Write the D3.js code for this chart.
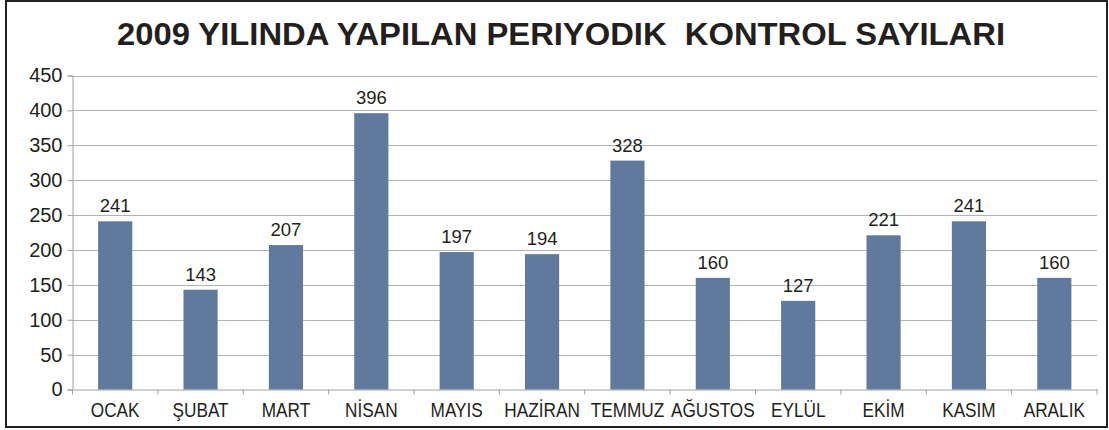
<!DOCTYPE html>
<html><head><meta charset="utf-8">
<script src="https://cdn.jsdelivr.net/npm/d3@7"></script>
<style>body{margin:0;background:#fff}svg{display:block}</style>
</head><body>
<script>
const categories = ["OCAK","ŞUBAT","MART","NİSAN","MAYIS","HAZİRAN","TEMMUZ","AĞUSTOS","EYLÜL","EKİM","KASIM","ARALIK"];
const values = [241,143,207,396,197,194,328,160,127,221,241,160];
const yTicks = [0,50,100,150,200,250,300,350,400,450];
const title = "2009 YILINDA YAPILAN PERIYODIK  KONTROL SAYILARI";

(function(){
const W=1109,H=430;
const svg=d3.select("body").append("svg").attr("width",W).attr("height",H);
svg.append("rect").attr("x",6).attr("y",1).attr("width",1101).attr("height",426).attr("fill","#fff").attr("stroke","#222").attr("stroke-width",2);

const pL=72.5,pR=1097,pT=75.5,pB=389.5;
const x=d3.scaleBand().domain(categories).range([pL,pR]).paddingInner(0.6).paddingOuter(0.3);
const xb=d3.scaleBand().domain(categories).range([pL,pR]);
const y=d3.scaleLinear().domain([0,450]).range([pB,pT]);

svg.append("text").attr("x",561).attr("y",45).attr("text-anchor","middle")
  .attr("font-family","Liberation Sans, Arial, sans-serif").attr("font-weight","bold").attr("font-size",31)
  .attr("textLength",888).attr("lengthAdjust","spacingAndGlyphs")
  .attr("fill","#231f20").style("white-space","pre").text(title);

svg.append("g").selectAll("line").data(yTicks.filter(d=>d>0)).join("line")
  .attr("x1",pL).attr("x2",pR).attr("y1",d=>Math.round(y(d))+0.5).attr("y2",d=>Math.round(y(d))+0.5)
  .attr("stroke","#b3b3b3").attr("stroke-width",1.2);

const ya=svg.append("g").attr("transform",`translate(${pL},0)`)
  .call(d3.axisLeft(y).tickValues(yTicks).tickSize(5).tickPadding(5));
ya.select(".domain").attr("stroke","#a0a0a0");
ya.selectAll(".tick line").attr("stroke","#a0a0a0");
ya.selectAll("text").attr("font-family","Liberation Sans, Arial, sans-serif").attr("font-size",20).attr("fill","#231f20");

const xa=svg.append("g").attr("transform",`translate(0,${pB})`)
  .call(d3.axisBottom(xb).tickSize(0).tickPadding(0).tickFormat(""));
xa.select(".domain").attr("stroke","#a0a0a0");
xa.selectAll(".tick").remove();
xa.selectAll("line.b").data(d3.range(categories.length+1)).join("line").attr("class","b")
  .attr("x1",i=>pL+i*xb.step()).attr("x2",i=>pL+i*xb.step()).attr("y1",0).attr("y2",5).attr("stroke","#a0a0a0");
svg.append("g").selectAll("text").data(categories).join("text")
  .attr("transform",d=>`translate(${xb(d)+xb.bandwidth()/2},417) scale(0.82,1)`).attr("text-anchor","middle")
  .attr("font-family","Liberation Sans, Arial, sans-serif").attr("font-size",21).attr("fill","#231f20").text(d=>d);

svg.append("g").selectAll("rect").data(values).join("rect")
  .attr("x",(d,i)=>x(categories[i])).attr("width",x.bandwidth())
  .attr("y",d=>y(d)).attr("height",d=>pB-y(d)).attr("fill","#5f7a9c");

svg.append("g").selectAll("text").data(values).join("text")
  .attr("x",(d,i)=>x(categories[i])+x.bandwidth()/2).attr("y",d=>y(d)-9).attr("text-anchor","middle")
  .attr("font-family","Liberation Sans, Arial, sans-serif").attr("font-size",18.5).attr("fill","#231f20").text(d=>d);
})();
</script>
</body></html>
